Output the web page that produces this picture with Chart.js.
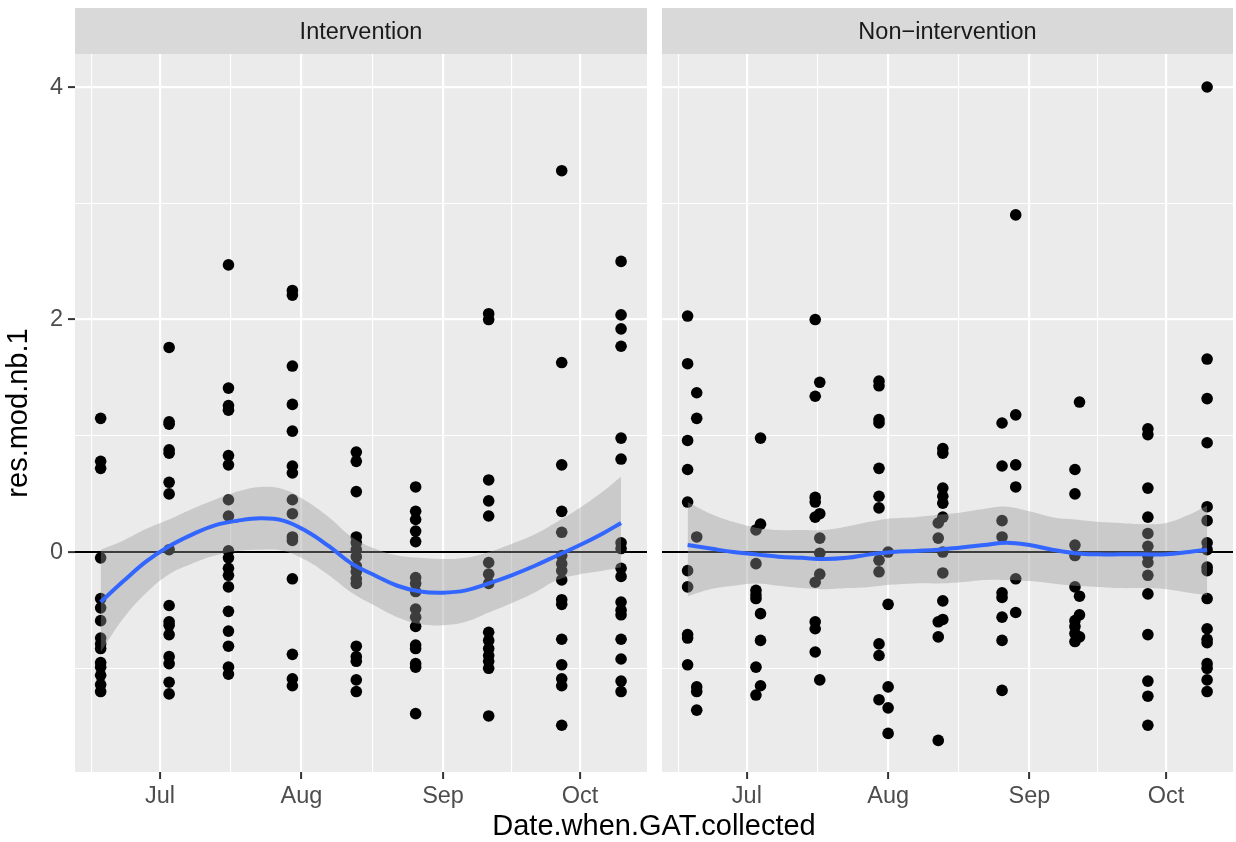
<!DOCTYPE html>
<html>
<head>
<meta charset="utf-8">
<script src="https://cdn.jsdelivr.net/npm/chart.js@4.4.0/dist/chart.umd.min.js"></script>
<style>
  body { margin: 0; background: #fff; width: 1236px; height: 842px; overflow: hidden; position: relative; font-family: "Liberation Sans", Arial, sans-serif; }
  #left { position: absolute; left: 0; top: 0; }
  #right { position: absolute; left: 662px; top: 0; }
  #xtitle { position: absolute; left: 75px; width: 1158px; top: 808px; text-align: center; font-size: 29px; line-height: 34px; color: #000; }
</style>
</head>
<body>
<canvas id="left" width="648" height="842"></canvas>
<canvas id="right" width="574" height="842"></canvas>
<div id="xtitle">Date.when.GAT.collected</div>
<script>
// x values are days since 1 July
const xTickDays = [0, 31, 62, 92];
const xTickLabels = ['Jul', 'Aug', 'Sep', 'Oct'];
const xMinorDays = [-15, 15.5, 46.5, 77];
const yTicks = [0, 2, 4];
const yMinor = [-1, 1, 3];

// Intervention: one sampling day per visit
const intDays = [-13, 2, 15, 29, 43, 56, 72, 88, 101];
const intRes = [
  [1.15, 0.78, 0.72, -0.05, -0.40, -0.48, -0.59, -0.74, -0.79, -0.83, -0.95, -0.99, -1.06, -1.14, -1.20],
  [1.76, 1.12, 1.10, 0.88, 0.85, 0.60, 0.50, 0.02, -0.46, -0.60, -0.63, -0.71, -0.90, -0.96, -1.12, -1.22],
  [2.47, 1.41, 1.26, 1.22, 0.83, 0.75, 0.45, 0.31, 0.01, -0.05, -0.14, -0.20, -0.30, -0.51, -0.68, -0.81, -0.99, -1.05],
  [2.25, 2.21, 1.60, 1.27, 1.04, 0.74, 0.68, 0.45, 0.33, 0.13, 0.10, -0.23, -0.88, -1.09, -1.15],
  [0.86, 0.78, 0.52, 0.13, 0.08, 0.02, -0.04, -0.12, -0.17, -0.23, -0.27, -0.81, -0.90, -0.94, -1.10, -1.20],
  [0.56, 0.35, 0.28, 0.18, 0.09, -0.22, -0.27, -0.34, -0.49, -0.56, -0.64, -0.80, -0.83, -0.96, -0.99, -1.39],
  [2.05, 2.00, 0.62, 0.44, 0.31, -0.09, -0.19, -0.27, -0.69, -0.76, -0.83, -0.89, -0.94, -1.00, -1.41],
  [3.28, 1.63, 0.75, 0.35, 0.17, -0.03, -0.10, -0.16, -0.24, -0.41, -0.45, -0.75, -0.97, -1.09, -1.15, -1.49],
  [2.50, 2.04, 1.92, 1.77, 0.98, 0.80, 0.08, 0.03, -0.14, -0.21, -0.43, -0.50, -0.54, -0.75, -0.92, -1.11, -1.20]
];

// Non-intervention: two sampling days per visit
const nonDays = [-13, -11, 2, 3, 15, 16, 29, 31, 42, 43, 56, 59, 72, 73, 88, 101];
const nonRes = [
  [2.03, 1.62, 0.96, 0.71, 0.43, -0.16, -0.30, -0.71, -0.74, -0.97],
  [1.37, 1.15, 0.13, -1.16, -1.20, -1.36],
  [0.19, -0.10, -0.33, -0.37, -0.40, -0.99, -1.23],
  [0.98, 0.24, -0.53, -0.76, -1.15],
  [2.00, 1.34, 0.47, 0.43, 0.30, -0.26, -0.60, -0.66, -0.86],
  [1.46, 0.33, 0.12, -0.01, -0.19, -1.10],
  [1.47, 1.43, 1.14, 1.11, 0.72, 0.48, 0.38, -0.07, -0.17, -0.79, -0.89, -1.27],
  [0.00, -0.45, -1.16, -1.34, -1.56],
  [0.25, 0.12, -0.60, -0.73, -1.62],
  [0.89, 0.85, 0.55, 0.48, 0.42, 0.30, 0.00, -0.18, -0.42, -0.58],
  [1.11, 0.74, 0.27, 0.13, -0.35, -0.39, -0.56, -0.76, -1.19],
  [2.90, 1.18, 0.75, 0.56, -0.23, -0.52],
  [0.71, 0.50, 0.06, -0.03, -0.30, -0.59, -0.64, -0.70, -0.77],
  [1.29, -0.38, -0.54, -0.73],
  [1.06, 1.01, 0.55, 0.30, 0.16, 0.05, -0.03, -0.09, -0.20, -0.36, -0.71, -1.11, -1.24, -1.49],
  [4.00, 1.66, 1.32, 0.94, 0.39, 0.27, 0.08, 0.02, -0.13, -0.16, -0.40, -0.66, -0.75, -0.78, -0.96, -1.00, -1.10, -1.20]
];

// loess fit and 95% band
const smoothDays = [-13, -8, -3, 2, 7, 12, 17, 22, 27, 32, 37, 42, 47, 52, 57, 62, 67, 72, 77, 82, 87, 92, 97, 101];
const intFit =   [-0.43, -0.25, -0.08, 0.05, 0.15, 0.23, 0.27, 0.29, 0.27, 0.18, 0.05, -0.10, -0.20, -0.29, -0.34, -0.35, -0.33, -0.27, -0.20, -0.12, -0.03, 0.06, 0.16, 0.25];
const intUpper = [0.02, 0.10, 0.20, 0.28, 0.37, 0.45, 0.52, 0.56, 0.54, 0.44, 0.30, 0.13, 0.03, -0.03, -0.05, -0.06, -0.05, 0.00, 0.07, 0.15, 0.26, 0.38, 0.52, 0.65];
const intLower = [-0.86, -0.57, -0.35, -0.19, -0.10, -0.03, 0.01, 0.02, 0.01, -0.07, -0.20, -0.35, -0.46, -0.56, -0.62, -0.63, -0.60, -0.52, -0.44, -0.35, -0.24, -0.19, -0.16, -0.13];
const nonFit =   [0.06, 0.03, 0.00, -0.02, -0.04, -0.05, -0.06, -0.05, -0.02, 0.00, 0.01, 0.02, 0.04, 0.06, 0.08, 0.06, 0.02, -0.01, -0.02, -0.02, -0.02, -0.02, 0.00, 0.02];
const nonUpper = [0.43, 0.33, 0.26, 0.21, 0.19, 0.19, 0.19, 0.22, 0.26, 0.29, 0.30, 0.32, 0.34, 0.37, 0.39, 0.35, 0.30, 0.28, 0.26, 0.25, 0.24, 0.25, 0.32, 0.40];
const nonLower = [-0.38, -0.32, -0.29, -0.27, -0.29, -0.31, -0.32, -0.31, -0.30, -0.28, -0.27, -0.27, -0.26, -0.24, -0.24, -0.25, -0.27, -0.29, -0.30, -0.31, -0.31, -0.32, -0.35, -0.37];

const FONT = '"Liberation Sans", Arial, sans-serif';

const panelDecor = {
  id: 'panelDecor',
  beforeDraw(chart, args, opts) {
    const { ctx, chartArea: a } = chart;
    ctx.save();
    ctx.fillStyle = '#EBEBEB';
    ctx.fillRect(a.left, a.top, a.right - a.left, a.bottom - a.top);
    ctx.fillStyle = '#D9D9D9';
    ctx.fillRect(a.left, 8, a.right - a.left, a.top - 8);
    ctx.fillStyle = '#1A1A1A';
    ctx.font = '23.5px ' + FONT;
    ctx.textAlign = 'center';
    ctx.textBaseline = 'middle';
    ctx.fillText(opts.title, (a.left + a.right) / 2, 33);
    ctx.restore();
  },
  beforeDatasetsDraw(chart) {
    // geom_hline(yintercept = 0)
    const { ctx, chartArea: a, scales } = chart;
    const y = scales.y.getPixelForValue(0);
    ctx.save();
    ctx.strokeStyle = '#000';
    ctx.lineWidth = 2;
    ctx.beginPath();
    ctx.moveTo(a.left, y);
    ctx.lineTo(a.right, y);
    ctx.stroke();
    ctx.restore();
  }
};

function pts(days, res) {
  const out = [];
  days.forEach((d, i) => res[i].forEach(v => out.push({ x: d, y: v })));
  return out;
}
const xy = (xs, ys) => xs.map((x, i) => ({ x, y: ys[i] }));

function makePanel(id, title, days, res, fit, upper, lower, showY) {
  const majorX = v => xTickDays.includes(v);
  const majorY = v => yTicks.includes(v);
  new Chart(document.getElementById(id), {
    type: 'line',
    data: {
      datasets: [
        { data: xy(smoothDays, fit), borderColor: '#3366FF', borderWidth: 4, pointRadius: 0, tension: 0.4, fill: false, order: 0 },
        { data: xy(smoothDays, upper), borderWidth: 0, borderColor: 'rgba(0,0,0,0)', pointRadius: 0, tension: 0.4,
          fill: '+1', backgroundColor: 'rgba(153,153,153,0.4)', order: 1 },
        { data: xy(smoothDays, lower), borderWidth: 0, borderColor: 'rgba(0,0,0,0)', pointRadius: 0, tension: 0.4, fill: false, order: 1 },
        { data: pts(days, res), showLine: false, pointRadius: 5.8, pointBackgroundColor: '#000', pointBorderWidth: 0, order: 2 }
      ]
    },
    options: {
      responsive: false,
      animation: false,
      events: [],
      layout: { autoPadding: false, padding: { left: 0, right: showY ? 1 : 3, top: 54, bottom: 0 } },
      plugins: { legend: { display: false }, tooltip: { enabled: false }, panelDecor: { title } },
      scales: {
        x: {
          type: 'linear', min: -18.62, max: 106.68,
          afterBuildTicks: s => { s.ticks = xMinorDays.concat(xTickDays).sort((a, b) => a - b).map(v => ({ value: v })); },
          afterFit: s => { s.height = 70; },
          border: { display: false },
          grid: {
            color: '#FFFFFF',
            lineWidth: c => majorX(c.tick.value) ? 2.2 : 1.1,
            tickLength: 7,
            tickWidth: 2,
            tickColor: c => majorX(c.tick.value) ? '#333333' : 'rgba(0,0,0,0)'
          },
          ticks: {
            autoSkip: false, maxRotation: 0, padding: 3, color: '#4D4D4D',
            font: { family: FONT, size: 23.5 },
            callback: v => majorX(v) ? xTickLabels[xTickDays.indexOf(v)] : ''
          }
        },
        y: {
          min: -1.892, max: 4.284,
          afterBuildTicks: s => { s.ticks = yMinor.concat(yTicks).sort((a, b) => a - b).map(v => ({ value: v })); },
          afterFit: s => { s.width = showY ? 75 : 0; },
          border: { display: false },
          grid: {
            color: '#FFFFFF',
            lineWidth: c => majorY(c.tick.value) ? 2.2 : 1.1,
            drawTicks: showY,
            tickLength: 7,
            tickWidth: 2,
            tickColor: c => majorY(c.tick.value) ? '#333333' : 'rgba(0,0,0,0)'
          },
          ticks: {
            display: showY, autoSkip: false, padding: 5, color: '#4D4D4D',
            font: { family: FONT, size: 23.5 },
            callback: v => majorY(v) ? String(v) : ''
          },
          title: {
            display: showY, text: 'res.mod.nb.1', color: '#000',
            font: { family: FONT, size: 29 }, padding: { top: 2, bottom: 0 }
          }
        }
      }
    },
    plugins: [panelDecor]
  });
}

makePanel('left', 'Intervention', intDays, intRes, intFit, intUpper, intLower, true);
makePanel('right', 'Non\u2212intervention', nonDays, nonRes, nonFit, nonUpper, nonLower, false);
</script>
</body>
</html>
